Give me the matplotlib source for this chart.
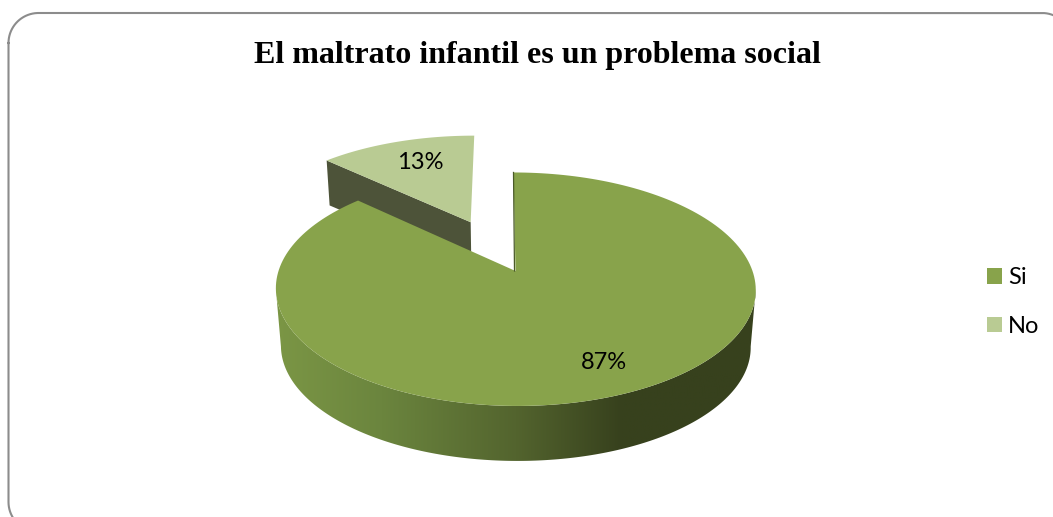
#!/usr/bin/env python3
"""Pastel 3D: El maltrato infantil es un problema social."""
import numpy as np
import matplotlib; matplotlib.use("Agg")
import matplotlib.pyplot as plt
from matplotlib.colors import LinearSegmentedColormap
from matplotlib.patches import Patch, Polygon

categories = ["Si", "No"]
values = [87, 13]
labels = ["87%", "13%"]
title = "El maltrato infantil es un problema social"

C_SI, C_NO, C_WALL = "#88a34b", "#b9cb93", "#4d5339"
W, H = 1053, 517
K = 0.156                 # perspectiva
TIP_X, TIP_Y, TIP_YB = 515.5, 271, 328.7
SKEW = 2.0
EXPLODE = 0.5

def proj(u, v, h=0.0):
    # disco unitario -> pixeles; h=0 cara superior, h=1 cara inferior
    w = 1 + K*v
    xt, yt = TIP_X + 237*u/w - SKEW*v, TIP_Y - 113.9*v/w
    xb, yb = TIP_X + 232*u/w - SKEW*v, TIP_YB - 111.6*v/w
    return xt + h*(xb-xt), yt + h*(yb-yt)

def rim(a0, a1, du=0.0, dv=0.0, h=0.0, n=200):
    # a0, a1 en grados, sentido horario desde las 12
    t = np.radians(np.linspace(a0, a1, n))
    return np.column_stack(proj(np.sin(t)+du, np.cos(t)+dv, h))

def frame_path(x0, y0, x1, y1, r, n=40):
    # rectangulo redondeado con esquinas circulares
    t = np.linspace(0, np.pi/2, n)
    c, s = np.cos(t), np.sin(t)
    pts = [np.column_stack([x0+r-r*c, y0+r-r*s]),
           np.column_stack([x1-r+r*s, y0+r-r*c]),
           np.column_stack([x1-r+r*c, y1-r+r*s]),
           np.column_stack([x0+r-r*s, y1-r+r*c])]
    return np.vstack(pts + [pts[0][:1]])

fig = plt.figure(figsize=(W/100, H/100), dpi=100)
ax = fig.add_axes([0, 0, 1, 1]); ax.axis("off")

ang_si = 360*values[0]/sum(values)
mid_no = np.radians((ang_si+360)/2)
du, dv = EXPLODE*np.sin(mid_no), EXPLODE*np.cos(mid_no)

# --- porcion "No" separada ---
tip = proj(du, dv); tip_b = proj(du, dv, 0.75)
left = rim(ang_si, ang_si, du, dv, n=1)[0]; left_b = rim(ang_si, ang_si, du, dv, 0.75, n=1)[0]
ax.add_patch(Polygon([left, tip, tip_b, left_b], fc=C_WALL, ec="none", zorder=2))
ax.add_patch(Polygon(np.vstack([[tip], rim(ang_si, 360, du, dv)]), fc=C_NO, ec="none", zorder=3))

# --- pared frontal de "Si" con degradado ---
a_ext = np.degrees(np.arccos(-K))
wall = np.vstack([rim(a_ext, 360-a_ext), rim(a_ext, 360-a_ext, h=1)[::-1]])
cmap = LinearSegmentedColormap.from_list("wall", [(0, "#7b9645"), (0.22, "#6b853e"), (0.5, "#53642e"),
                                                  (0.72, "#37411d"), (1, "#37411d")])
im = ax.imshow(np.linspace(0, 1, 256).reshape(1, -1), cmap=cmap, aspect="auto", zorder=4,
               extent=[wall[:, 0].min(), wall[:, 0].max(), wall[:, 1].max(), wall[:, 1].min()])
clip = Polygon(wall, transform=ax.transData, fc="none", ec="none")
ax.add_patch(clip); im.set_clip_path(clip)

# --- cara superior de "Si" ---
ax.add_patch(Polygon(np.vstack([[proj(0, 0)], rim(0, ang_si)]), fc=C_SI, ec="none", zorder=5))
top = rim(0, 0, n=1)[0]
ax.plot([top[0], TIP_X-1], [top[1], TIP_Y], color="#4a5a28", lw=0.9, zorder=6)

ax.text(604, 362.5, labels[0], ha="center", va="center", fontsize=17, family="Lato", color="black", zorder=7)
ax.text(420, 162.5, labels[1], ha="center", va="center", fontsize=17, family="Lato", color="black", zorder=7)

ax.text(537, 56, title, ha="center", va="center", fontsize=23, fontweight="bold",
        family="Liberation Serif", color="black", zorder=7)

# marco redondeado, se sale del lienzo a la derecha y abajo
ax.plot(*frame_path(8.5, 13, 1072, 532, 30).T, color="#8c8c8c", lw=1.5, zorder=1)

ax.set_xlim(0, W); ax.set_ylim(H, 0)

handles = [Patch(fc=c, ec="none") for c in (C_SI, C_NO)]
ax.legend(handles, categories, loc="center left", bbox_to_anchor=(979/W, 1-302/H), frameon=False,
          prop=dict(family="Lato", size=17), handlelength=0.635, handleheight=0.635,
          handletextpad=0.25, labelspacing=1.18, borderpad=0.35, borderaxespad=0)

fig.savefig("out.png", dpi=100)
